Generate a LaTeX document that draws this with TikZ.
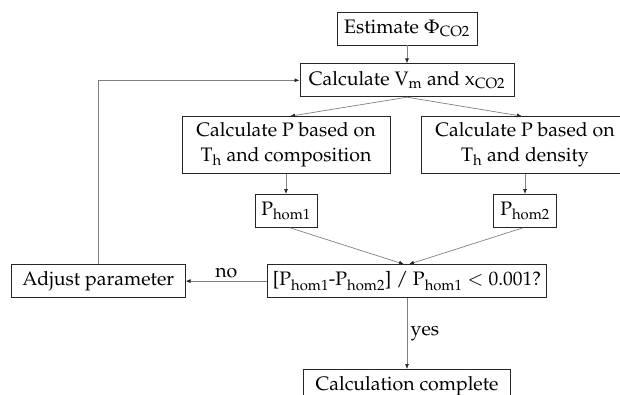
\documentclass[tikz,border=0pt]{standalone}
\usepackage[T1]{fontenc}
\usepackage{mathpazo}
\usetikzlibrary{arrows.meta,positioning}
\tikzstyle{box}=[rectangle,draw=black!85,line width=0.8pt,align=center,minimum height=33pt,inner sep=2pt,font=\fontsize{19.5pt}{25pt}\selectfont]
\tikzstyle{tall}=[box,minimum width=208pt,minimum height=57pt]
\tikzstyle{arr}=[-{Latex[length=5pt,width=4pt,color=black!85]},draw=black!50,line width=0.7pt]
\tikzstyle{lbl}=[font=\fontsize{19.5pt}{25pt}\selectfont]

\begin{document}
\begin{tikzpicture}
\useasboundingbox (0,0) rectangle (620pt,-394pt);
\node (est) [box, minimum width=140pt] at (407pt,-28.5pt) {Estimate $\Phi$\textsubscript{CO2}};
\node (vm) [box, minimum width=214pt, below=18pt of est] {Calculate V\textsubscript{m} and x\textsubscript{CO2}};
\node (comp) [tall, below=19pt of vm, xshift=-121pt] {Calculate P based on\\T\textsubscript{h} and composition};
\node (dens) [tall, below=19pt of vm, xshift=118pt] {Calculate P based on\\T\textsubscript{h} and density};
\node (phom1) [box, minimum width=62pt, below=20pt of comp] {P\textsubscript{hom1}};
\node (phom2) [box, minimum width=63pt, below=20pt of dens] {P\textsubscript{hom2}};
\node (test) [box, minimum width=279pt, below=167pt of vm] {[P\textsubscript{hom1}-P\textsubscript{hom2}] / P\textsubscript{hom1} $<$ 0.001?};
\node (adjust) [box, minimum width=174pt, left=81.5pt of test] {Adjust parameter};
\node (done) [box, minimum width=207pt, below=71pt of test] {Calculation complete};
\draw [arr] (est) -- (vm);
\draw [arr] (vm.south) -- ([xshift=4pt]comp.north);
\draw [arr] (vm.south) -- ([xshift=-3pt]dens.north);
\draw [arr] (comp) -- (phom1);
\draw [arr] (dens) -- (phom2);
\draw [arr] ([xshift=4pt]phom1.south) -- ([xshift=-3pt]test.north);
\draw [arr] ([xshift=-2pt]phom2.south) -- ([xshift=2pt]test.north);
\draw [arr] (test) -- node [lbl, above] {no} (adjust);
\draw [arr] (adjust.north) |- (vm.west);
\draw [arr] (test) -- node [lbl, right] {yes} (done);
\end{tikzpicture}
\end{document}
